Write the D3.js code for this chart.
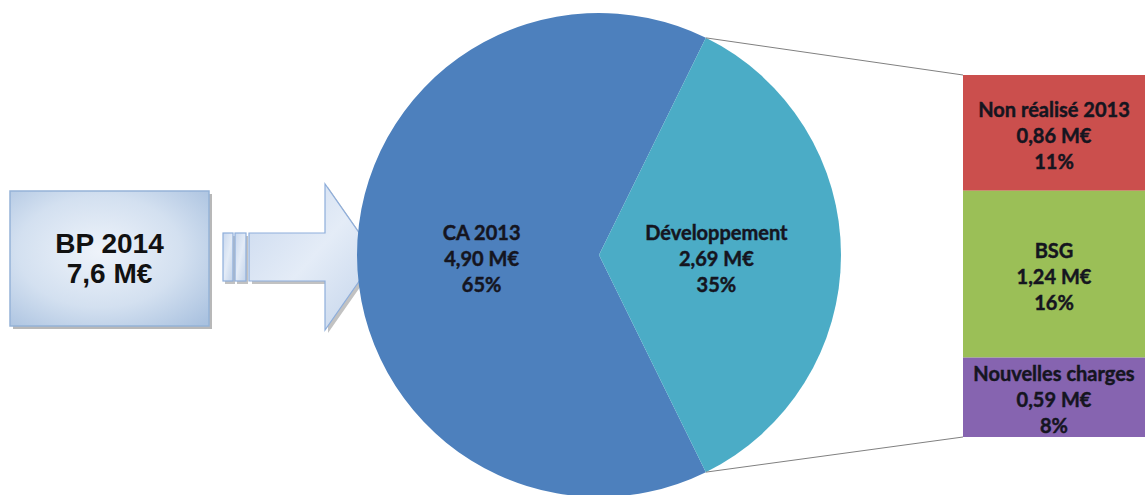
<!DOCTYPE html>
<html>
<head>
<meta charset="utf-8">
<script src="https://cdn.jsdelivr.net/npm/d3@7"></script>
<style>
  html, body { margin: 0; padding: 0; background: #ffffff; }
  svg { display: block; }
</style>
</head>
<body>
<svg id="chart" width="1146" height="495"></svg>
<script>
// Budget 2014 breakdown: main pie plus the detail of "Développement" as a stacked bar
const pieLabels = ["CA 2013", "Développement"];
const pieValues = [4.90, 2.69];
const pieShares = ["65%", "35%"];

const barLabels = ["Non réalisé 2013", "BSG", "Nouvelles charges"];
const barValues = [0.86, 1.24, 0.59];
const barShares = ["11%", "16%", "8%"];

const totalLines = ["BP 2014", "7,6 M€"];

const pieColors = ["#4d80bd", "#4bacc6"];
const barColors = ["#cb4f4d", "#9bbf57", "#8664b0"];

const frFormat = d3.formatLocale({ decimal: ",", thousands: " ", grouping: [3], currency: ["", " M€"] });
const fmtM = v => frFormat.format(".2f")(v) + " M€";

const svg = d3.select("#chart");

// ---------- gradients ----------
const defs = svg.append("defs");
const boxGrad = defs.append("radialGradient").attr("id", "boxGrad")
  .attr("cx", "45%").attr("cy", "45%").attr("r", "75%");
boxGrad.append("stop").attr("offset", "0%").attr("stop-color", "#eef3fa");
boxGrad.append("stop").attr("offset", "55%").attr("stop-color", "#d3e0f0");
boxGrad.append("stop").attr("offset", "100%").attr("stop-color", "#a9c1df");

const arrowGrad = defs.append("linearGradient").attr("id", "arrowGrad")
  .attr("x1", "0%").attr("y1", "0%").attr("x2", "100%").attr("y2", "100%");
arrowGrad.append("stop").attr("offset", "0%").attr("stop-color", "#c9d8ee");
arrowGrad.append("stop").attr("offset", "50%").attr("stop-color", "#e4ecf7");
arrowGrad.append("stop").attr("offset", "100%").attr("stop-color", "#c2d3ea");

// ---------- total box ----------
const box = { x: 10, y: 191, w: 199, h: 135 };
svg.append("rect")
  .attr("x", box.x + 3).attr("y", box.y + 3).attr("width", box.w).attr("height", box.h)
  .attr("fill", "#9a9a9a").attr("opacity", 0.7);
svg.append("rect")
  .attr("x", box.x).attr("y", box.y).attr("width", box.w).attr("height", box.h)
  .attr("fill", "url(#boxGrad)").attr("stroke", "#95b3d7").attr("stroke-width", 1.5);
svg.append("text")
  .attr("x", box.x + box.w / 2).attr("y", box.y + box.h / 2)
  .attr("text-anchor", "middle")
  .attr("font-family", "'Liberation Sans', Arial, sans-serif")
  .attr("font-weight", "bold").attr("font-size", 28).attr("fill", "#111")
  .selectAll("tspan").data(totalLines).join("tspan")
  .attr("x", box.x + box.w / 2)
  .attr("dy", (d, i) => i === 0 ? -6 : 30)
  .text(d => d);

// ---------- arrow ----------
const arrowG = svg.append("g");
const shaft = { y0: 233, y1: 281 };
const arrowPath = `M249,${shaft.y0} L325,${shaft.y0} L325,184 L376,257 L325,330 L325,${shaft.y1} L249,${shaft.y1} Z`;
arrowG.append("path").attr("d", arrowPath).attr("transform", "translate(3,3)")
  .attr("fill", "#9a9a9a").attr("opacity", 0.6);
[[223, 233], [235, 246]].forEach(([a, b]) => {
  arrowG.append("rect").attr("x", a + 2).attr("y", shaft.y0 + 3).attr("width", b - a).attr("height", shaft.y1 - shaft.y0)
    .attr("fill", "#9a9a9a").attr("opacity", 0.6);
  arrowG.append("rect").attr("x", a).attr("y", shaft.y0).attr("width", b - a).attr("height", shaft.y1 - shaft.y0)
    .attr("fill", "url(#arrowGrad)").attr("stroke", "#8eaedb").attr("stroke-width", 1.2);
});
arrowG.append("path").attr("d", arrowPath)
  .attr("fill", "url(#arrowGrad)").attr("stroke", "#8eaedb").attr("stroke-width", 1.2);

// ---------- pie ----------
const cx = 599, cy = 255, R = 242;
const total = d3.sum(pieValues);
const devSpan = 2 * Math.PI * pieValues[1] / total;
const start = Math.PI / 2 + devSpan / 2;
const pie = d3.pie().sort(null).startAngle(start).endAngle(start + 2 * Math.PI);
const arcs = pie(pieValues);
const arc = d3.arc().innerRadius(0).outerRadius(R);
const labelArc = d3.arc().innerRadius(R * 0.485).outerRadius(R * 0.485);

const pieG = svg.append("g").attr("transform", `translate(${cx},${cy})`);
pieG.selectAll("path").data(arcs).join("path")
  .attr("d", arc).attr("fill", (d, i) => pieColors[i]);

// connector lines from the detailed slice to the stacked bar
const barX0 = 963, barX1 = 1145;
const y = d3.scaleLinear().domain([0, d3.sum(barValues)]).range([75, 437]);
const dev = arcs[1];
const pt = a => [cx + R * Math.sin(a), cy - R * Math.cos(a)];
const [ux, uy] = pt(dev.startAngle);
const [lx, ly] = pt(dev.endAngle);
svg.append("line").attr("x1", ux).attr("y1", uy).attr("x2", barX0).attr("y2", y(0))
  .attr("stroke", "#808080").attr("stroke-width", 1);
svg.append("line").attr("x1", lx).attr("y1", ly).attr("x2", barX0).attr("y2", y(d3.sum(barValues)))
  .attr("stroke", "#808080").attr("stroke-width", 1);

const labelFont = "Lato, 'Open Sans', sans-serif";
const lineGap = 26;

function drawLabel(g, x, yc, lines) {
  g.append("text")
    .attr("x", x).attr("y", yc)
    .attr("text-anchor", "middle")
    .attr("font-family", labelFont).attr("font-weight", "bold").attr("font-size", 20)
    .attr("fill", "#15151f").attr("stroke", "#15151f").attr("stroke-width", 0.45)
    .selectAll("tspan").data(lines).join("tspan")
    .attr("x", x)
    .attr("dy", (d, i) => i === 0 ? -lineGap + 7 : lineGap)
    .text(d => d);
}

arcs.forEach((d, i) => {
  const [lxp, lyp] = labelArc.centroid(d);
  drawLabel(svg, cx + lxp, cy + lyp + 4, [pieLabels[i], fmtM(pieValues[i]), pieShares[i]]);
});

// ---------- stacked bar ----------
let acc = 0;
const stack = barValues.map((v, i) => { const s = { i, y0: acc, y1: acc + v }; acc += v; return s; });
const barG = svg.append("g");
barG.selectAll("rect").data(stack).join("rect")
  .attr("x", barX0).attr("y", d => y(d.y0))
  .attr("width", barX1 - barX0).attr("height", d => y(d.y1) - y(d.y0))
  .attr("fill", d => barColors[d.i]);

stack.forEach(d => {
  const yc = (y(d.y0) + y(d.y1)) / 2 + 3;
  drawLabel(barG, (barX0 + barX1) / 2, yc, [barLabels[d.i], fmtM(barValues[d.i]), barShares[d.i]]);
});
</script>
</body>
</html>
